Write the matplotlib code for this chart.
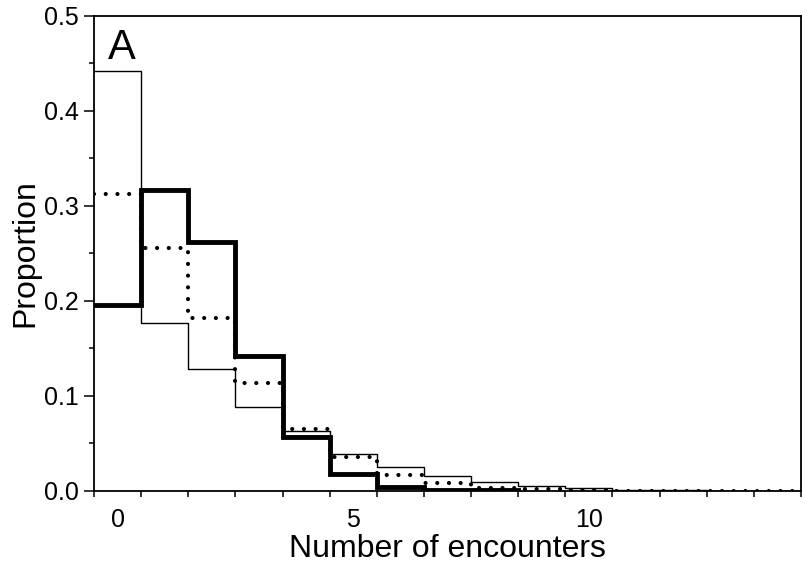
import numpy as np
import matplotlib
matplotlib.use("Agg")
import matplotlib.pyplot as plt
from matplotlib.ticker import MultipleLocator, FixedLocator, FormatStrFormatter

plt.rcParams['font.family'] = ['Liberation Sans', 'DejaVu Sans']

# bins: number of encounters 0..14 (edges at half-integers)
bins = list(range(15))
thin_vals = [0.442, 0.1765, 0.128, 0.0888, 0.063, 0.039, 0.0256, 0.0153,
             0.0092, 0.0056, 0.0030, 0.0015, 0.0008, 0.0005, 0.0003]
dotted_vals = [0.313, 0.2555, 0.1818, 0.1133, 0.0655, 0.0357, 0.017, 0.0088,
               0.0030, 0.0018, 0.0008, 0.0005, 0.0004, 0.0003, 0.0003]
thick_vals = [0.196, 0.317, 0.262, 0.142, 0.057, 0.018, 0.0045, 0.0015, 0.0007]
panel_label = "A"
x_ticks = [0, 5, 10]

fig = plt.figure(figsize=(8.07, 5.65), dpi=100)
ax = fig.add_axes([0.1165, 0.131, 0.876, 0.8407])

def step_xy(vals):
    edges = np.arange(len(vals) + 1) - 0.5
    return edges, list(vals) + [vals[-1]]

x, y = step_xy(thin_vals)
ax.plot(x, y, drawstyle='steps-post', color='black', lw=1.0)
x, y = step_xy(dotted_vals)
ax.plot(x, y, drawstyle='steps-post', color='black', lw=3.0,
        linestyle=(0, (0.01, 2.8)), dash_capstyle='round')
x, y = step_xy(thick_vals)
ax.plot(x, y, drawstyle='steps-post', color='black', lw=3.5, solid_joinstyle='miter')

ax.set_xlim(-0.5, 14.5)
ax.set_ylim(0, 0.5)

ax.yaxis.set_major_locator(MultipleLocator(0.1))
ax.yaxis.set_minor_locator(MultipleLocator(0.05))
ax.yaxis.set_major_formatter(FormatStrFormatter('%.1f'))
ax.xaxis.set_major_locator(FixedLocator(x_ticks))
ax.xaxis.set_minor_locator(FixedLocator(list(np.arange(-0.5, 15, 1.0))))

ax.tick_params(axis='y', which='major', direction='out', length=7.2, width=1.1,
               labelsize=18, pad=4)
ax.tick_params(axis='y', which='minor', direction='out', length=3.6, width=1.1)
ax.tick_params(axis='x', which='major', direction='out', length=0, labelsize=18, pad=12)
ax.tick_params(axis='x', which='minor', direction='out', length=4.5, width=1.1)

for s in ax.spines.values():
    s.set_linewidth(1.3)

ax.set_xlabel("Number of encounters", fontsize=23, va='baseline')
ax.xaxis.set_label_coords(0.5, -0.138)
ax.set_ylabel("Proportion", fontsize=23, labelpad=2)

ax.text(0.09, 0.455, panel_label, fontsize=30, ha='center', va='baseline')

fig.savefig("out.png", dpi=100)
